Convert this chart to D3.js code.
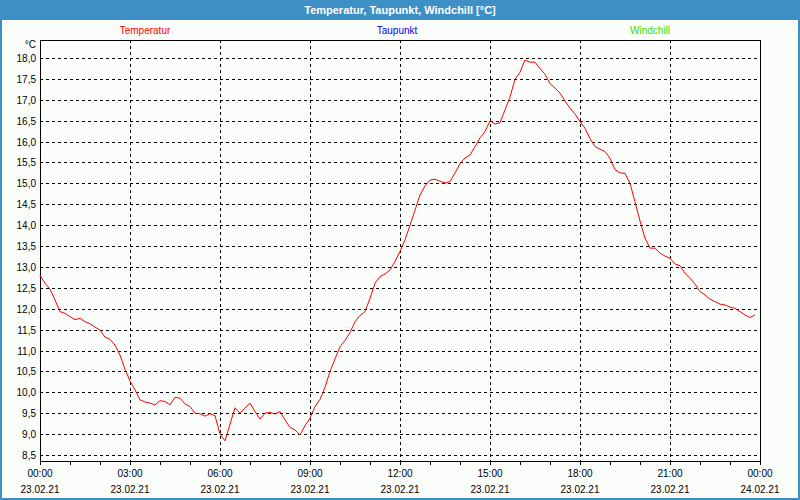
<!DOCTYPE html>
<html>
<head>
<meta charset="utf-8">
<script src="https://cdn.jsdelivr.net/npm/d3@7"></script>
<style>
  html, body { margin: 0; padding: 0; background: #fff; }
  svg { display: block; }
  text { font-family: "Liberation Sans", Arial, sans-serif; }
</style>
</head>
<body>
<svg id="chart" width="800" height="500"></svg>
<script>
// ---- data ----
const chartTitle = "Temperatur, Taupunkt, Windchill [°C]";
const seriesNames = ["Temperatur", "Taupunkt", "Windchill"];
const seriesColors = ["#ff0000", "#0000ff", "#33dd00"];
const startTime = "2021-02-23T00:00";
const stepMinutes = 10;
// Temperatur, one value every 10 minutes from 00:00
const temperatur = [
  12.80, 12.61, 12.47, 12.21, 11.93, 11.89, 11.81, 11.74, 11.77, 11.69, 11.64, 11.56,
  11.49, 11.32, 11.27, 11.13, 10.89, 10.55, 10.27, 10.06, 9.82, 9.77, 9.74, 9.70,
  9.80, 9.78, 9.70, 9.88, 9.86, 9.72, 9.66, 9.50, 9.49, 9.43, 9.49, 9.44,
  9.00, 8.84, 9.24, 9.63, 9.50, 9.62, 9.74, 9.54, 9.36, 9.50, 9.52, 9.48,
  9.54, 9.34, 9.16, 9.10, 8.98, 9.20, 9.38, 9.66, 9.83, 10.12, 10.50, 10.80,
  11.09, 11.24, 11.43, 11.69, 11.84, 11.93, 12.25, 12.61, 12.77, 12.83, 12.93, 13.13,
  13.37, 13.65, 14.00, 14.36, 14.72, 14.94, 15.08, 15.10, 15.05, 15.01, 15.04, 15.25,
  15.47, 15.61, 15.68, 15.88, 16.09, 16.24, 16.50, 16.42, 16.45, 16.76, 17.07, 17.49,
  17.66, 17.95, 17.90, 17.90, 17.75, 17.61, 17.39, 17.28, 17.16, 16.97, 16.80, 16.66,
  16.48, 16.32, 16.07, 15.88, 15.82, 15.76, 15.60, 15.33, 15.25, 15.24, 15.00, 14.56,
  14.10, 13.69, 13.45, 13.45, 13.33, 13.26, 13.21, 13.07, 13.03, 12.85, 12.73, 12.59,
  12.41, 12.33, 12.23, 12.17, 12.11, 12.09, 12.04, 12.01, 11.93, 11.85, 11.79, 11.85
];
const yTicks = [8.5, 9.0, 9.5, 10.0, 10.5, 11.0, 11.5, 12.0, 12.5, 13.0, 13.5, 14.0,
  14.5, 15.0, 15.5, 16.0, 16.5, 17.0, 17.5, 18.0];
const xTickHours = [0, 3, 6, 9, 12, 15, 18, 21, 24];
const yUnit = "°C";

// ---- drawing ----
const W = 800, H = 500;
const svg = d3.select("#chart");
const plot = {left: 40, right: 760, top: 40, bottom: 461};

const parse = d3.timeParse("%Y-%m-%dT%H:%M");
const t0 = parse(startTime);
const t1 = d3.timeHour.offset(t0, 24);
const data = temperatur.map((v, i) => ({t: d3.timeMinute.offset(t0, i * stepMinutes), v}));

const x = d3.scaleTime().domain([t0, t1]).range([plot.left, plot.right]);
const y = d3.scaleLinear().domain([8.5, 18.0]).range([455, 58]);

// background + frame
svg.append("rect").attr("width", W).attr("height", H).attr("fill", "#3d8fc6");
svg.append("rect").attr("x", 2).attr("y", 20).attr("width", W - 4).attr("height", H - 22)
  .attr("fill", "#fbfdfb");

svg.append("text").attr("x", W / 2).attr("y", 14).attr("text-anchor", "middle")
  .attr("fill", "#ffffff").attr("font-weight", "bold").attr("font-size", "11px")
  .text(chartTitle);

// legend
const legendX = [145, 397, 650];
seriesNames.forEach((n, i) => {
  svg.append("text").attr("x", legendX[i]).attr("y", 34).attr("text-anchor", "middle")
    .attr("fill", seriesColors[i]).attr("font-size", "10px").text(n);
});

// grid
const tickTimes = xTickHours.map(h => d3.timeHour.offset(t0, h));
const grid = svg.append("g").attr("stroke", "#000").attr("stroke-width", 1)
  .attr("stroke-dasharray", "3,3").attr("shape-rendering", "crispEdges");
yTicks.forEach(v => {
  grid.append("line").attr("x1", plot.left).attr("x2", plot.right)
    .attr("y1", Math.round(y(v)) + 0.5).attr("y2", Math.round(y(v)) + 0.5);
});
tickTimes.slice(1, -1).forEach(t => {
  grid.append("line").attr("x1", Math.round(x(t)) + 0.5).attr("x2", Math.round(x(t)) + 0.5)
    .attr("y1", plot.top).attr("y2", plot.bottom);
});

// plot border
svg.append("rect").attr("x", plot.left + 0.5).attr("y", plot.top + 0.5)
  .attr("width", plot.right - plot.left).attr("height", plot.bottom - plot.top)
  .attr("fill", "none").attr("stroke", "#000").attr("shape-rendering", "crispEdges");

// y axis labels
const fmt = d3.format(".1f");
yTicks.forEach(v => {
  svg.append("text").attr("x", 36).attr("y", Math.round(y(v)) + 4)
    .attr("text-anchor", "end").attr("font-size", "10px").attr("fill", "#000")
    .text(fmt(v).replace(".", ","));
});
svg.append("text").attr("x", 36).attr("y", 48).attr("text-anchor", "end")
  .attr("font-size", "10px").attr("fill", "#000").text(yUnit);

// x axis ticks (hourly)
const hourTicks = d3.timeHour.range(t0, d3.timeHour.offset(t1, 1));
svg.append("g").selectAll("line").data(hourTicks).join("line")
  .attr("x1", d => Math.round(x(d)) + 0.5).attr("x2", d => Math.round(x(d)) + 0.5)
  .attr("y1", plot.bottom).attr("y2", plot.bottom + 4)
  .attr("stroke", "#000").attr("shape-rendering", "crispEdges");

const timeFmt = d3.timeFormat("%H:%M"), dateFmt = d3.timeFormat("%d.%m.%y");
tickTimes.forEach(t => {
  svg.append("text").attr("x", x(t)).attr("y", 477).attr("text-anchor", "middle")
    .attr("font-size", "10px").attr("fill", "#000").text(timeFmt(t));
  svg.append("text").attr("x", x(t)).attr("y", 493).attr("text-anchor", "middle")
    .attr("font-size", "10px").attr("fill", "#000").text(dateFmt(t));
});

// line
const line = d3.line().x(d => x(d.t)).y(d => y(d.v));
svg.append("path").datum(data).attr("d", line).attr("fill", "none")
  .attr("stroke", seriesColors[0]).attr("stroke-width", 1);
</script>
</body>
</html>
